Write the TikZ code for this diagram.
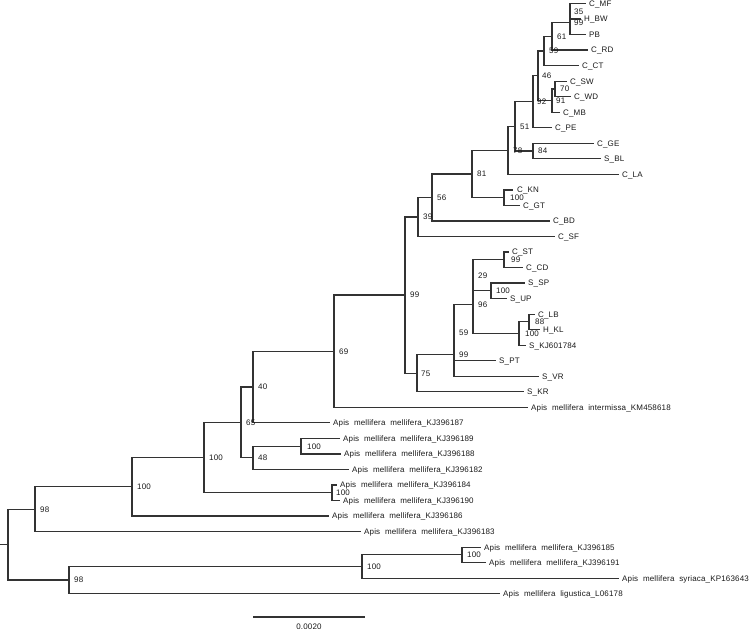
\documentclass[tikz,border=0pt]{standalone}
\usepackage{fontspec}
\newfontfamily\treefont{Liberation Sans}[LetterSpace=2]
\newcommand{\ammel}{Apis\ \ mellifera\ \ mellifera\_}
\begin{document}
\begin{tikzpicture}[x=1pt,y=-1pt,
  branch/.style={line width=1.2pt, color=black!80, line cap=rect},
  leaflab/.style={anchor=west, inner sep=0pt, text height=5.8pt, text depth=0pt, font=\treefont\fontsize{8}{9}\selectfont, text=black!90},
  boot/.style={anchor=west, inner sep=0pt, text height=5.8pt, text depth=0pt, font=\treefont\fontsize{8}{9}\selectfont, text=black!90}]
\useasboundingbox (0,0) rectangle (750,634);

% ---------- internal nodes ----------
\coordinate (root) at (8,544.6);
\coordinate (rstub) at (1,544.6);
\coordinate (n35) at (570,11.25);
\coordinate (n99a) at (570,22.9);
\coordinate (n61) at (552,36.5);
\coordinate (n59a) at (544,51.05);
\coordinate (n70) at (555,88.95);
\coordinate (n91) at (552,100.6);
\coordinate (n46) at (538,75.8);
\coordinate (n92) at (533,101.75);
\coordinate (n84) at (533,151.05);
\coordinate (n51) at (515,126.4);
\coordinate (n78) at (508,150.35);
\coordinate (n100kn) at (504,197.65);
\coordinate (n81) at (472,174);
\coordinate (n56) at (432,197.45);
\coordinate (n39) at (418,217);
\coordinate (n99st) at (504,259.75);
\coordinate (n100sp) at (491,290.8);
\coordinate (n29) at (473,275.3);
\coordinate (n88) at (529,321.85);
\coordinate (n100lb) at (519,333.5);
\coordinate (n96) at (473,304.4);
\coordinate (n59b) at (454,332.55);
\coordinate (n99b) at (454,354.4);
\coordinate (n75) at (417,373.1);
\coordinate (n99c) at (405,295.05);
\coordinate (n69) at (334,351.2);
\coordinate (n40) at (253,387);
\coordinate (n100e) at (301,446.1);
\coordinate (n48) at (253,457.75);
\coordinate (n65) at (241,422.4);
\coordinate (n100f) at (332,492.7);
\coordinate (n100g) at (204,457.55);
\coordinate (n100h) at (132,486.8);
\coordinate (n98a) at (35,509.15);
\coordinate (n100i) at (462,554.85);
\coordinate (n100j) at (362,566.5);
\coordinate (n98b) at (69,580.05);

% ---------- leaf ends and labels ----------
\coordinate (e1) at (585,3.5);    \node[leaflab] (l1) at (589,3.5) {C\_MF};
\coordinate (e2) at (580,19.0);   \node[leaflab] (l2) at (584,19.0) {H\_BW};
\coordinate (e3) at (585,34.6);   \node[leaflab] (l3) at (589,34.6) {PB};
\coordinate (e4) at (587,50.1);   \node[leaflab] (l4) at (591,50.1) {C\_RD};
\coordinate (e5) at (578,65.6);   \node[leaflab] (l5) at (582,65.6) {C\_CT};
\coordinate (e6) at (566,81.2);   \node[leaflab] (l6) at (570,81.2) {C\_SW};
\coordinate (e7) at (570,96.7);   \node[leaflab] (l7) at (574,96.7) {C\_WD};
\coordinate (e8) at (559,112.2);  \node[leaflab] (l8) at (563,112.2) {C\_MB};
\coordinate (e9) at (551,127.7);  \node[leaflab] (l9) at (555,127.7) {C\_PE};
\coordinate (e10) at (593,143.3); \node[leaflab] (l10) at (597,143.3) {C\_GE};
\coordinate (e11) at (600,158.8); \node[leaflab] (l11) at (604,158.8) {S\_BL};
\coordinate (e12) at (618,174.3); \node[leaflab] (l12) at (622,174.3) {C\_LA};
\coordinate (e13) at (512,189.9); \node[leaflab] (l13) at (517,189.9) {C\_KN};
\coordinate (e14) at (519,205.4); \node[leaflab] (l14) at (523,205.4) {C\_GT};
\coordinate (e15) at (549,220.9); \node[leaflab] (l15) at (553,220.9) {C\_BD};
\coordinate (e16) at (554,236.5); \node[leaflab] (l16) at (558,236.5) {C\_SF};
\coordinate (e17) at (508,252.0); \node[leaflab] (l17) at (512,252.0) {C\_ST};
\coordinate (e18) at (522,267.5); \node[leaflab] (l18) at (526,267.5) {C\_CD};
\coordinate (e19) at (524,283.0); \node[leaflab] (l19) at (528,283.0) {S\_SP};
\coordinate (e20) at (506,298.6); \node[leaflab] (l20) at (510,298.6) {S\_UP};
\coordinate (e21) at (534,314.1); \node[leaflab] (l21) at (538,314.1) {C\_LB};
\coordinate (e22) at (539,329.6); \node[leaflab] (l22) at (543,329.6) {H\_KL};
\coordinate (e23) at (525,345.2); \node[leaflab] (l23) at (529,345.2) {S\_KJ601784};
\coordinate (e24) at (495,360.7); \node[leaflab] (l24) at (499,360.7) {S\_PT};
\coordinate (e25) at (538,376.2); \node[leaflab] (l25) at (542,376.2) {S\_VR};
\coordinate (e26) at (523,391.8); \node[leaflab] (l26) at (527,391.8) {S\_KR};
\coordinate (e27) at (527,407.3); \node[leaflab] (l27) at (531,407.3) {Apis\ \ mellifera\ \ intermissa\_KM458618};
\coordinate (e28) at (329,422.8); \node[leaflab] (l28) at (333,422.8) {\ammel KJ396187};
\coordinate (e29) at (339,438.3); \node[leaflab] (l29) at (343,438.3) {\ammel KJ396189};
\coordinate (e30) at (340,453.9); \node[leaflab] (l30) at (344,453.9) {\ammel KJ396188};
\coordinate (e31) at (348,469.4); \node[leaflab] (l31) at (352,469.4) {\ammel KJ396182};
\coordinate (e32) at (336,484.9); \node[leaflab] (l32) at (340,484.9) {\ammel KJ396184};
\coordinate (e33) at (339,500.5); \node[leaflab] (l33) at (343,500.5) {\ammel KJ396190};
\coordinate (e34) at (328,516.0); \node[leaflab] (l34) at (332,516.0) {\ammel KJ396186};
\coordinate (e35) at (360,531.5); \node[leaflab] (l35) at (364,531.5) {\ammel KJ396183};
\coordinate (e36) at (480,547.1); \node[leaflab] (l36) at (484,547.1) {\ammel KJ396185};
\coordinate (e37) at (485,562.6); \node[leaflab] (l37) at (489,562.6) {\ammel KJ396191};
\coordinate (e38) at (618,578.1); \node[leaflab] (l38) at (622,578.1) {Apis\ \ mellifera\ \ syriaca\_KP163643};
\coordinate (e39) at (499,593.6); \node[leaflab] (l39) at (503,593.6) {Apis\ \ mellifera\ \ ligustica\_L06178};

% ---------- branches ----------
\draw[branch] (rstub) -- (root);
\draw[branch] (root) |- (n98a);  \draw[branch] (root) |- (n98b);
\draw[branch] (n98a) |- (n100h); \draw[branch] (n98a) |- (e35);
\draw[branch] (n100h) |- (n100g); \draw[branch] (n100h) |- (e34);
\draw[branch] (n100g) |- (n65);  \draw[branch] (n100g) |- (n100f);
\draw[branch] (n100f) |- (e32);  \draw[branch] (n100f) |- (e33);
\draw[branch] (n65) |- (n40);    \draw[branch] (n65) |- (n48);
\draw[branch] (n48) |- (n100e);  \draw[branch] (n48) |- (e31);
\draw[branch] (n100e) |- (e29);  \draw[branch] (n100e) |- (e30);
\draw[branch] (n40) |- (n69);    \draw[branch] (n40) |- (e28);
\draw[branch] (n69) |- (n99c);   \draw[branch] (n69) |- (e27);
\draw[branch] (n99c) |- (n39);   \draw[branch] (n99c) |- (n75);
\draw[branch] (n75) |- (n99b);   \draw[branch] (n75) |- (e26);
\draw[branch] (n99b) |- (n59b);  \draw[branch] (n99b) |- (e25);
\draw[branch] (n59b) |- (n96);   \draw[branch] (n59b) |- (e24);
\draw[branch] (n96) |- (n29);    \draw[branch] (n96) |- (n100lb);
\draw[branch] (n100lb) |- (n88); \draw[branch] (n100lb) |- (e23);
\draw[branch] (n88) |- (e21);    \draw[branch] (n88) |- (e22);
\draw[branch] (n29) |- (n99st);  \draw[branch] (n29) |- (n100sp);
\draw[branch] (n99st) |- (e17);  \draw[branch] (n99st) |- (e18);
\draw[branch] (n100sp) |- (e19); \draw[branch] (n100sp) |- (e20);
\draw[branch] (n39) |- (n56);    \draw[branch] (n39) |- (e16);
\draw[branch] (n56) |- (n81);    \draw[branch] (n56) |- (e15);
\draw[branch] (n81) |- (n78);    \draw[branch] (n81) |- (n100kn);
\draw[branch] (n100kn) |- (e13); \draw[branch] (n100kn) |- (e14);
\draw[branch] (n78) |- (n51);    \draw[branch] (n78) |- (e12);
\draw[branch] (n51) |- (n92);    \draw[branch] (n51) |- (n84);
\draw[branch] (n84) |- (e10);    \draw[branch] (n84) |- (e11);
\draw[branch] (n92) |- (n46);    \draw[branch] (n92) |- (e9);
\draw[branch] (n46) |- (n59a);   \draw[branch] (n46) |- (n91);
\draw[branch] (n91) |- (n70);    \draw[branch] (n91) |- (e8);
\draw[branch] (n70) |- (e6);     \draw[branch] (n70) |- (e7);
\draw[branch] (n59a) |- (n61);   \draw[branch] (n59a) |- (e5);
\draw[branch] (n61) |- (n99a);   \draw[branch] (n61) |- (e4);
\draw[branch] (n99a) |- (n35);   \draw[branch] (n99a) |- (e3);
\draw[branch] (n35) |- (e1);     \draw[branch] (n35) |- (e2);
\draw[branch] (n98b) |- (n100j); \draw[branch] (n98b) |- (e39);
\draw[branch] (n100j) |- (n100i); \draw[branch] (n100j) |- (e38);
\draw[branch] (n100i) |- (e36);  \draw[branch] (n100i) |- (e37);

% ---------- bootstrap values ----------
\node[boot] (b35) at (574,11.25) {35};
\node[boot] (b99a) at (574,22.9) {99};
\node[boot] (b61) at (557,36.5) {61};
\node[boot] (b59a) at (549,51.05) {59};
\node[boot] (b46) at (542,75.8) {46};
\node[boot] (b70) at (560,88.95) {70};
\node[boot] (b91) at (556,100.6) {91};
\node[boot] (b92) at (537,101.75) {92};
\node[boot] (b84) at (538,151.05) {84};
\node[boot] (b51) at (520,126.4) {51};
\node[boot] (b78) at (513,150.35) {78};
\node[boot] (b100kn) at (510,197.65) {100};
\node[boot] (b81) at (477,174) {81};
\node[boot] (b56) at (437,197.45) {56};
\node[boot] (b39) at (423,217) {39};
\node[boot] (b99st) at (511,259.75) {99};
\node[boot] (b100sp) at (496,290.8) {100};
\node[boot] (b29) at (478,275.3) {29};
\node[boot] (b88) at (535,321.85) {88};
\node[boot] (b100lb) at (525,333.5) {100};
\node[boot] (b96) at (478,304.4) {96};
\node[boot] (b59b) at (459,332.55) {59};
\node[boot] (b99b) at (459,354.4) {99};
\node[boot] (b75) at (421,373.1) {75};
\node[boot] (b99c) at (410,295.05) {99};
\node[boot] (b69) at (339,351.2) {69};
\node[boot] (b40) at (258,387) {40};
\node[boot] (b100e) at (307,446.1) {100};
\node[boot] (b48) at (258,457.75) {48};
\node[boot] (b65) at (246,422.4) {65};
\node[boot] (b100f) at (336,492.7) {100};
\node[boot] (b100g) at (209,457.55) {100};
\node[boot] (b100h) at (137,486.8) {100};
\node[boot] (b98a) at (40,509.15) {98};
\node[boot] (b100i) at (467,554.85) {100};
\node[boot] (b100j) at (367,566.5) {100};
\node[boot] (b98b) at (74,580.05) {98};

% ---------- scale bar ----------
\coordinate (sbl) at (254,617);
\coordinate (sbr) at (364,617);
\draw[branch] (sbl) -- (sbr);
\node[boot, anchor=center] (sbt) at (309,626.5) {0.0020};
\end{tikzpicture}
\end{document}
